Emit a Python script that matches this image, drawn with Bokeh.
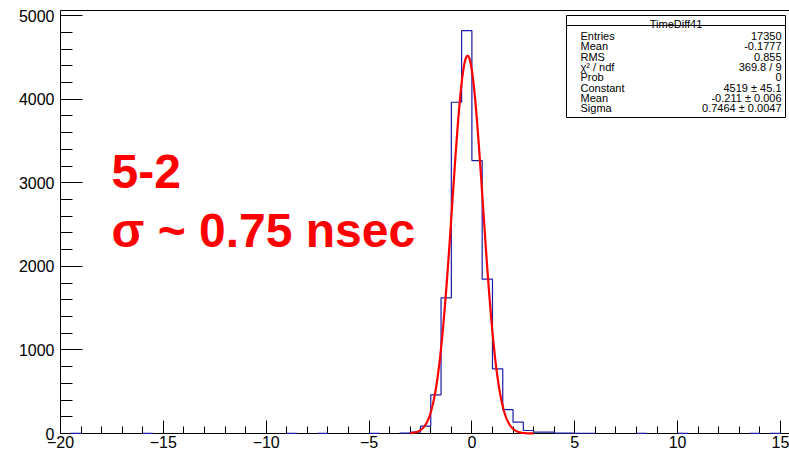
import numpy as np
from bokeh.plotting import figure
from bokeh.models import (Range1d, SingleIntervalTicker, FixedTicker, LinearAxis, Label)
from bokeh.embed import file_html
from bokeh.resources import INLINE

# ---------------- data ----------------
bin_width = 0.5
hist_start = -20.0
hist_stop = 15.0
# left edges of non-empty bins and their counts
bin_left = [-19.5, -16.0, -9.0, -7.5, -5.0, -3.5, -3.0, -2.5, -2.0, -1.5, -1.0, -0.5,
            0.0, 0.5, 1.0, 1.5, 2.0, 2.5, 3.0, 3.5, 4.0, 4.5, 5.0, 5.5,
            8.0, 10.0, 13.5, 14.5]
bin_count = [2, 2, 2, 2, 2, 5, 16, 88, 463, 1623, 3963, 4820,
             3266, 1846, 774, 285, 135, 36, 16, 16, 4, 4, 3, 3,
             2, 2, 2, 2]

fit_constant = 4519.0
fit_mean = -0.211
fit_sigma = 0.7464
fit_lo, fit_hi = -3.0, 3.0

stats_title = "TimeDiff41"
stats_names = ["Entries", "Mean", "RMS", "\u03c7\u00b2 / ndf", "Prob", "Constant", "Mean", "Sigma"]
stats_values = ["17350", "-0.1777", "0.855", "369.8 / 9", "0",
                "4519 \u00b1 45.1", "-0.211 \u00b1 0.006", "0.7464 \u00b1 0.0047"]

note_lines = ["5-2", "\u03c3 ~ 0.75 nsec"]

x_ticks_interval = 5
y_ticks_interval = 1000

# ---------------- layout helpers ----------------
W, H = 789, 454
FL, FT, FR, FB = 60, 10, 789, 433
X0, X1 = -20.0, 15.44
Y0, Y1 = 0.0, 5061.0

def dx(px):
    return X0 + (px - FL) * (X1 - X0) / (FR - FL)

def dy(py):
    return Y0 + (FB - py) * (Y1 - Y0) / (FB - FT)

FONT = "Liberation Sans"

p = figure(width=W, height=H, output_backend="svg", toolbar_location=None,
           x_range=Range1d(X0, X1), y_range=Range1d(Y0, Y1),
           min_border_left=FL, min_border_right=0, min_border_top=FT,
           min_border_bottom=H - FB, background_fill_color="white",
           border_fill_color="white", x_axis_type=None, y_axis_type=None)
p.outline_line_color = None
p.xgrid.visible = False
p.ygrid.visible = False

xa = LinearAxis(ticker=SingleIntervalTicker(interval=x_ticks_interval, num_minor_ticks=5))
xa.major_tick_in = 13
xa.major_tick_out = 0
xa.minor_tick_in = 7
xa.minor_tick_out = 0
xa.major_label_standoff = 2
xa.major_label_text_font = FONT
xa.major_label_text_font_size = "16px"
xa.major_label_text_color = "black"
xa.axis_line_color = "black"
xa.major_tick_line_color = "black"
xa.minor_tick_line_color = "black"
p.add_layout(xa, "below")

ya = LinearAxis(ticker=SingleIntervalTicker(interval=y_ticks_interval, num_minor_ticks=5))
ya.major_tick_in = 22
ya.major_tick_out = 0
ya.minor_tick_in = 12
ya.minor_tick_out = 0
ya.major_label_standoff = 6
ya.major_label_text_font = FONT
ya.major_label_text_font_size = "16px"
ya.major_label_text_color = "black"
ya.axis_line_color = "black"
ya.major_tick_line_color = "black"
ya.minor_tick_line_color = "black"
p.add_layout(ya, "left")

ta = LinearAxis(ticker=FixedTicker(ticks=[]))
ta.major_tick_in = 0
ta.major_tick_out = 0
ta.minor_tick_in = 0
ta.minor_tick_out = 0
ta.major_label_standoff = 0
ta.major_label_text_font_size = "0px"
ta.axis_line_color = "black"
p.add_layout(ta, "above")

# ---------------- histogram outline ----------------
nb = int(round((hist_stop - hist_start) / bin_width))
counts = np.zeros(nb)
for l, c in zip(bin_left, bin_count):
    counts[int(round((l - hist_start) / bin_width))] = c
edges = hist_start + bin_width * np.arange(nb + 1)

xs, ys = [], []
i = 0
while i < nb:
    if counts[i] == 0:
        i += 1
        continue
    j = i
    xs.append(edges[i]); ys.append(0)
    while j < nb and counts[j] > 0:
        xs += [edges[j], edges[j + 1]]
        ys += [counts[j], counts[j]]
        j += 1
    xs.append(edges[j]); ys.append(0)
    xs.append(np.nan); ys.append(np.nan)
    i = j
p.line(xs, ys, line_color="#1c1ca8", line_width=1.2, level="annotation")

# ---------------- gaussian fit ----------------
fx = np.linspace(fit_lo, fit_hi, 400)
fy = fit_constant * np.exp(-0.5 * ((fx - fit_mean) / fit_sigma) ** 2)
p.line(fx, fy, line_color="#ff0000", line_width=2.2, level="annotation")

# ---------------- text note ----------------
note_baselines = [171, 230]
for t, by in zip(note_lines, note_baselines):
    p.add_layout(Label(x=dx(111), y=dy(by), text=t, text_font=FONT,
                       text_font_size="48px", text_font_style="bold",
                       text_color="#ff0000", text_baseline="alphabetic",
                       text_align="left"))

# ---------------- stats box ----------------
bl, bt, br, bb = 566, 15, 785, 117
p.quad(left=[dx(bl)], right=[dx(br)], top=[dy(bt)], bottom=[dy(bb)],
       fill_color="white", line_color="black", line_width=1, level="glyph")
p.line([dx(bl), dx(br)], [dy(25), dy(25)], line_color="black", line_width=1,
       level="glyph")
p.add_layout(Label(x=dx((bl + br) / 2), y=dy(23.5), text=stats_title, text_font=FONT,
                   text_font_size="11px", text_align="center",
                   text_baseline="alphabetic", text_color="black"))
for k, (nm, vl) in enumerate(zip(stats_names, stats_values)):
    by = 35.5 + 10.35 * k
    p.add_layout(Label(x=dx(580), y=dy(by), text=nm, text_font=FONT,
                       text_font_size="11px", text_align="left",
                       text_baseline="alphabetic", text_color="black"))
    p.add_layout(Label(x=dx(781), y=dy(by), text=vl, text_font=FONT,
                       text_font_size="11px", text_align="right",
                       text_baseline="alphabetic", text_color="black"))

open("out.html", "w").write(file_html(p, INLINE))
